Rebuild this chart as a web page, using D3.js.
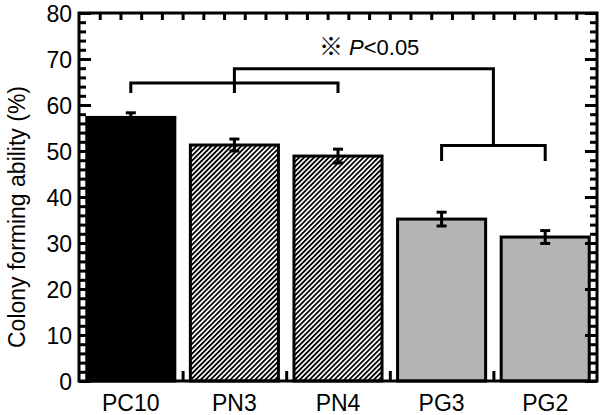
<!DOCTYPE html>
<html>
<head>
<meta charset="utf-8">
<script src="https://cdn.jsdelivr.net/npm/d3@7"></script>
<style>
  body { margin: 0; background: #fff; }
  svg text { font-family: "Liberation Sans", Arial, Helvetica, sans-serif; fill: #000; }
</style>
</head>
<body>
<svg id="chart" width="600" height="415"></svg>
<script>
// data
const categories = ['PC10', 'PN3', 'PN4', 'PG3', 'PG2'];
const means = [57.3, 51.3, 48.9, 35.2, 31.3];
const errors = [1.0, 1.3, 1.5, 1.5, 1.4];
const yMajorTicks = [0, 10, 20, 30, 40, 50, 60, 70, 80];

// significance brackets (values in % units)
const leftBracket = { from: 'PC10', to: 'PN4', level: 64.8, foot: 62.6 };
const rightBracket = { from: 'PG3', to: 'PG2', level: 51.2, foot: 47.8 };
const linkLevel = 67.9;
const sigLabel = 'P<0.05';

const svg = d3.select('#chart');
const plotLeft = 79, plotRight = 597, plotTop = 13, plotBottom = 381;

const x = d3.scaleBand()
    .domain(categories)
    .range([plotLeft, plotRight])
    .paddingInner(0.15)
    .paddingOuter(0.075);

const y = d3.scaleLinear().domain([0, 80]).range([plotBottom, plotTop]);

// scale in "band units" for the small frame ticks
const xb = d3.scaleLinear().domain([0, categories.length]).range([plotLeft, plotRight]);

const defs = svg.append('defs');
defs.append('pattern')
    .attr('id', 'hatch')
    .attr('patternUnits', 'userSpaceOnUse')
    .attr('width', 3.5)
    .attr('height', 3.5)
    .attr('patternTransform', 'rotate(45)')
    .call(p => {
        p.append('rect').attr('width', 3.5).attr('height', 3.5).attr('fill', '#fff');
        p.append('line').attr('x1', 0.9).attr('y1', 0).attr('x2', 0.9).attr('y2', 3.5)
            .attr('stroke', '#000').attr('stroke-width', 1.8);
    });

function barFill(i) {
    if (i === 0) return '#000';
    if (i < 3) return 'url(#hatch)';
    return '#b4b4b4';
}

// bars
svg.append('g').selectAll('rect')
    .data(categories)
    .join('rect')
    .attr('x', d => x(d))
    .attr('y', (d, i) => y(means[i]))
    .attr('width', x.bandwidth())
    .attr('height', (d, i) => y(0) - y(means[i]))
    .attr('fill', (d, i) => barFill(i))
    .attr('stroke', '#000')
    .attr('stroke-width', 3);

// error bars
const eb = svg.append('g').attr('stroke', '#000').attr('stroke-width', 3).attr('fill', 'none');
categories.forEach((c, i) => {
    const cx = x(c) + x.bandwidth() / 2;
    const y1 = y(means[i] + errors[i]);
    const y2 = y(means[i] - errors[i]);
    eb.append('line').attr('x1', cx).attr('x2', cx).attr('y1', y1).attr('y2', y2);
    eb.append('line').attr('x1', cx - 5).attr('x2', cx + 5).attr('y1', y1).attr('y2', y1);
    eb.append('line').attr('x1', cx - 5).attr('x2', cx + 5).attr('y1', y2).attr('y2', y2);
});

// y axis ticks, all pointing inwards
const minorY = d3.range(0, 81, 2);
function yTicks(axisFn, size, values, padding) {
    return axisFn(y).tickValues(values).tickSizeInner(-size).tickSizeOuter(0).tickPadding(padding);
}
svg.append('g').attr('transform', `translate(${plotLeft},0)`)
    .call(yTicks(d3.axisLeft, 7, minorY, 0).tickFormat(''));
const yLeftMajor = svg.append('g').attr('transform', `translate(${plotLeft},0)`)
    .call(yTicks(d3.axisLeft, 12, yMajorTicks, 7));
svg.append('g').attr('transform', `translate(${plotRight},0)`)
    .call(yTicks(d3.axisRight, 7, minorY, 0).tickFormat(''));
svg.append('g').attr('transform', `translate(${plotRight},0)`)
    .call(yTicks(d3.axisRight, 12, yMajorTicks, 0).tickFormat(''));

// x frame ticks: small ones along the top, boundary ticks along the bottom
svg.append('g').attr('transform', `translate(0,${plotTop})`)
    .call(d3.axisTop(xb).tickValues(d3.range(0.2, 5, 0.2)).tickSizeInner(-7).tickSizeOuter(0).tickFormat(''));
svg.append('g').attr('transform', `translate(0,${plotBottom})`)
    .call(d3.axisBottom(xb).tickValues([1, 2, 3, 4]).tickSizeInner(-10).tickSizeOuter(0).tickFormat(''));

// category labels
svg.append('g').selectAll('text')
    .data(categories)
    .join('text')
    .attr('x', d => x(d) + x.bandwidth() / 2)
    .attr('y', 411)
    .attr('text-anchor', 'middle')
    .attr('font-size', 23)
    .text(d => d);

svg.selectAll('.domain').remove();
svg.selectAll('.tick line').attr('stroke', '#000').attr('stroke-width', 3);
yLeftMajor.selectAll('text').attr('font-size', 23).attr('font-family', null).attr('dy', '0.36em');

// frame
svg.append('rect')
    .attr('x', plotLeft).attr('y', plotTop)
    .attr('width', plotRight - plotLeft).attr('height', plotBottom - plotTop)
    .attr('fill', 'none').attr('stroke', '#000').attr('stroke-width', 3);

// axis title
svg.append('text')
    .attr('transform', `translate(25,${(plotTop + plotBottom) / 2 + 20}) rotate(-90)`)
    .attr('text-anchor', 'middle')
    .attr('font-size', 23)
    .text('Colony forming ability (%)');

// significance brackets
const mid = c => x(c) + x.bandwidth() / 2;
const br = svg.append('g').attr('stroke', '#000').attr('stroke-width', 3).attr('fill', 'none');
[leftBracket, rightBracket].forEach(b => {
    br.append('path').attr('d', `M${mid(b.from)},${y(b.foot)}V${y(b.level)}H${mid(b.to)}V${y(b.foot)}`);
});
const linkRight = (mid(rightBracket.from) + mid(rightBracket.to)) / 2;
br.append('path')
    .attr('d', `M${mid('PN3')},${y(leftBracket.foot)}V${y(linkLevel)}H${linkRight}V${y(rightBracket.level)}`);

const sig = svg.append('text')
    .attr('x', 319)
    .attr('y', 55)
    .attr('font-size', 22);
sig.append('tspan').attr('font-family', '"Noto Sans CJK JP", "DejaVu Sans", sans-serif')
    .attr('font-size', 24).attr('font-weight', 'bold').text('\u203B');
sig.append('tspan').attr('dx', 6).attr('font-style', 'italic').text('P');
sig.append('tspan').text(sigLabel.slice(1));
</script>
</body>
</html>
